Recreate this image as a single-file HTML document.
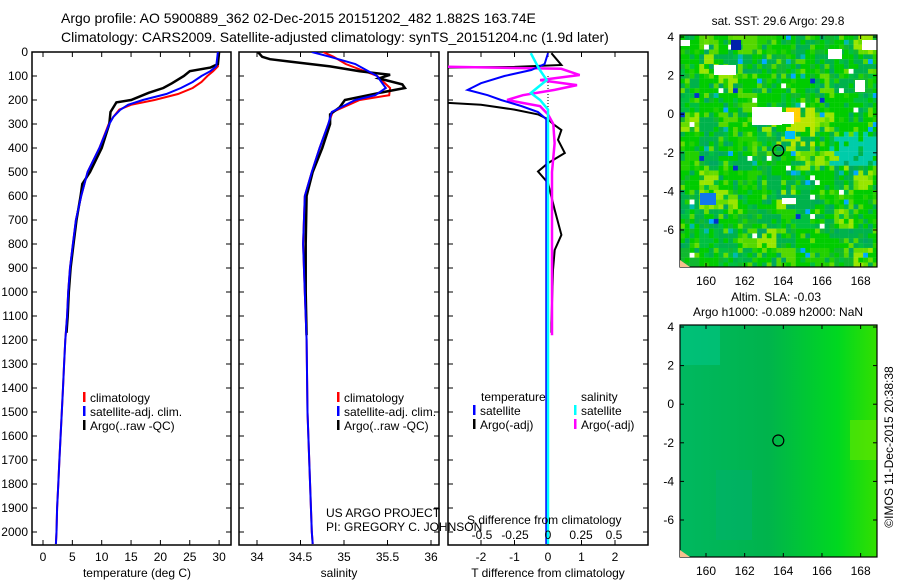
<!DOCTYPE html>
<html><head><meta charset="utf-8"><style>
body{margin:0;background:#fff;}
svg{display:block;font-family:"Liberation Sans",sans-serif;}
</style></head><body>
<svg id="c" width="900" height="580" viewBox="0 0 900 580">
<defs>
<clipPath id="p1c"><rect x="32" y="52" width="199" height="493"/></clipPath>
<clipPath id="p2c"><rect x="239" y="52" width="200" height="493"/></clipPath>
<clipPath id="p3c"><rect x="448" y="52" width="200" height="493"/></clipPath>
<clipPath id="m1c"><rect x="680" y="35" width="197" height="232"/></clipPath>
<clipPath id="m2c"><rect x="680" y="325" width="197" height="232"/></clipPath>
</defs>
<text x="61" y="23" font-size="14">Argo profile: AO 5900889_362 02-Dec-2015 20151202_482 1.882S 163.74E</text>
<text x="61" y="42" font-size="14">Climatology: CARS2009. Satellite-adjusted climatology: synTS_20151204.nc (1.9d later)</text>
<g id="g"></g>
</svg>
<script>
// ---- data ----
const tDepth=[0,60,80,100,125,150,175,200,220,240,270,300,400,500,600,700,800,900,1000,1100,1200,1300,1400,1500,1600,1700,1800,1900,2000,2050];
const tClim=[29.8,29.8,29,28,27,25.5,23,19,15,13,12,11.2,9.6,7.6,6.5,5.6,5.1,4.6,4.3,4.1,3.8,3.6,3.4,3.2,3.0,2.8,2.6,2.4,2.3,2.2];
const tSat=[29.8,29.5,28.5,27,25.5,23.5,21,17,14.5,13.2,12,11.3,9.6,7.6,6.5,5.6,5.1,4.6,4.3,4.1,3.8,3.6,3.4,3.2,3.0,2.8,2.6,2.4,2.3,2.2];
const aDepth=[0,50,65,80,100,130,150,170,200,210,250,300,400,500,550,600,700,800,900,1000,1100,1170];
const tArgo=[30,29.8,28.5,25,24,22,20.5,18,15,12.5,11.5,11.3,10,8,6.7,6.4,5.7,5.2,4.7,4.4,4.2,4.0];
const sDepth=[0,20,50,100,150,180,200,250,300,400,500,600,800,1000,1200,1500,2000,2050];
const sClim=[34.76,34.88,35.02,35.38,35.53,35.52,35.18,34.87,34.82,34.72,34.63,34.55,34.53,34.55,34.57,34.58,34.63,34.64];
const sSat=[34.63,34.84,35.13,35.38,35.48,35.36,35.13,34.86,34.82,34.72,34.63,34.55,34.53,34.55,34.57,34.58,34.63,34.64];
const saDepth=[0,20,30,40,60,80,95,110,135,150,170,200,230,260,300,400,500,600,800,1000,1180];
const sArgo=[34.01,34.06,34.15,34.38,34.84,35.18,35.53,35.4,35.67,35.7,35.41,35.01,34.95,34.84,34.84,34.75,34.64,34.57,34.56,34.56,34.57];
const dtSatDepth=[5,50,75,100,130,158,180,200,225,250,280,400,2050];
const dtSat=[0,-0.1,-0.5,-1.3,-2,-2.4,-1.8,-1.4,-0.8,-0.3,-0.05,-0.05,-0.05];
const dtArgoDepth=[5,54,62,65,208,220,240,260,280,300,325,366,421,463,498,546,658,762,825,908,1130,1170];
const dtArgo=[0.1,0.4,-1,-3.5,-3.5,-2,-1,-0.3,0,0.15,0.4,0.3,0.5,0,-0.3,0,0.2,0.4,0.2,0.15,0.1,0.1];
const dsArgoDepth=[5,55,61,70,96,117,138,158,180,200,226,260,300,380,500,1180];
const dsArgo=[-0.8,-0.8,-0.8,0.1,0.24,-0.06,0.22,0.05,-0.19,-0.31,-0.06,0,0.04,0.05,0.03,0.03];
const dsSatDepth=[5,68,117,171,200,240,300,2050];
const dsSat=[-0.13,-0.07,-0.01,-0.13,-0.06,0,0,0];
const depthTicks=[0,100,200,300,400,500,600,700,800,900,1000,1100,1200,1300,1400,1500,1600,1700,1800,1900,2000];
const tTicks=[0,5,10,15,20,25,30];
const sTicks=[34,34.5,35,35.5,36];
const dtTicks=[-2,-1,0,1,2];
const dsTicks=[-0.5,-0.25,0,0.25,0.5];
const latTicks=[4,2,0,-2,-4,-6];
const lonTicks=[160,162,164,166,168];
const argoLon=163.74, argoLat=-1.882;

// ---- scales ----
const D=d=>52+d*0.24, T=v=>43+v*5.87, S=s=>257+(s-34)*87, DT=v=>548+v*33.5, DS=v=>548+v*132;
const LX=l=>706+(l-160)*19.33, LY1=a=>37+(4-a)*19.3, LY2=a=>327+(4-a)*19.3;
const NS='http://www.w3.org/2000/svg', G=document.getElementById('g');
function el(t,a,p){const e=document.createElementNS(NS,t);for(const k in a)e.setAttribute(k,a[k]);(p||G).appendChild(e);return e;}
function txt(x,y,s,anchor,size){const e=el('text',{x:x,y:y,'font-size':size||12,'text-anchor':anchor||'start'});e.textContent=s;return e;}
function line(xs,ys,fx,color,w,clip,name){
  const pts=xs.map((v,i)=>fx(v).toFixed(1)+','+D(ys[i]).toFixed(1)).join(' ');
  const e=el('polyline',{points:pts,fill:'none',stroke:color,'stroke-width':w,'clip-path':'url(#'+clip+')'});
  
  
}
function frame(x0,x1,name){
  const r=el('rect',{x:x0,y:52,width:x1-x0,height:493,fill:'none',stroke:'#000','stroke-width':1.5});
  
  
  depthTicks.forEach(d=>{el('line',{x1:x0,x2:x0+5,y1:D(d),y2:D(d),stroke:'#000'});el('line',{x1:x1-5,x2:x1,y1:D(d),y2:D(d),stroke:'#000'});});
}
// panel 1
frame(32,231,'temperature-panel');
depthTicks.forEach(d=>{const e=txt(28,D(d)+4,String(d),'end');});
tTicks.forEach(v=>{el('line',{x1:T(v),x2:T(v),y1:52,y2:57,stroke:'#000'});el('line',{x1:T(v),x2:T(v),y1:540,y2:545,stroke:'#000'});const e=txt(T(v),561,String(v),'middle');});
line(tClim,tDepth,T,'#ff0000',2,'p1c','temp-climatology-line');
line(tArgo,aDepth,T,'#000',2.5,'p1c','temp-argo-line');
line(tSat,tDepth,T,'#0000ff',2,'p1c','temp-satellite-line');
let e=txt(137,577,'temperature (deg C)','middle');
function legend(x,y,items,name){items.forEach((it,i)=>{el('rect',{x:x,y:y+i*14-10,width:2.5,height:10,fill:it[0]});const t=txt(x+7,y+i*14,it[1]);});}
legend(83,402,[['#ff0000','climatology'],['#0000ff','satellite-adj. clim.'],['#000','Argo(..raw -QC)']],'temp-legend-entry');
// panel 2
frame(239,439,'salinity-panel');
sTicks.forEach(v=>{el('line',{x1:S(v),x2:S(v),y1:52,y2:57,stroke:'#000'});el('line',{x1:S(v),x2:S(v),y1:540,y2:545,stroke:'#000'});const e=txt(S(v),561,String(v),'middle');});
line(sClim,sDepth,S,'#ff0000',2,'p2c','sal-climatology-line');
line(sArgo,saDepth,S,'#000',2.5,'p2c','sal-argo-line');
line(sSat,sDepth,S,'#0000ff',2,'p2c','sal-satellite-line');
e=txt(339,577,'salinity','middle');
legend(337,402,[['#ff0000','climatology'],['#0000ff','satellite-adj. clim.'],['#000','Argo(..raw -QC)']],'sal-legend-entry');
// panel 3
frame(448,648,'difference-panel');
el('line',{x1:548,x2:548,y1:D(100),y2:D(300),stroke:'#000','stroke-dasharray':'1,2'});
dtTicks.forEach(v=>{el('line',{x1:DT(v),x2:DT(v),y1:52,y2:57,stroke:'#000'});el('line',{x1:DT(v),x2:DT(v),y1:540,y2:545,stroke:'#000'});const e=txt(DT(v),561,String(v),'middle');});
line(dtArgo,dtArgoDepth,DT,'#000',2,'p3c','t-diff-argo-line');
line(dsArgo,dsArgoDepth,DS,'#ff00ff',2.5,'p3c','s-diff-argo-line');
line(dtSat,dtSatDepth,DT,'#0000ff',2,'p3c','t-diff-satellite-line');
line(dsSat,dsSatDepth,DS,'#00ffff',2.5,'p3c','s-diff-satellite-line');
dsTicks.forEach(v=>{const e=txt(DS(v),539,String(v),'middle');});
e=txt(467,524,'S difference from climatology');
e=txt(548,577,'T difference from climatology','middle');
e=txt(481,401,'temperature');
e=txt(581,401,'salinity');
legend(473,415,[['#0000ff','satellite'],['#000','Argo(-adj)']],'t-diff-legend-entry');
legend(574,415,[['#00ffff','satellite'],['#ff00ff','Argo(-adj)']],'s-diff-legend-entry');
e=txt(326,517,'US ARGO PROJECT');
e=txt(326,531,'PI: GREGORY C. JOHNSON');

// ---- maps ----
function h(i,j,s){let x=(i*374761393+j*668265263+s*982451653)|0;x=(x^(x>>>13))*1274126177|0;return ((x^(x>>>16))>>>0)/4294967296;}
const pal1=['#00cc00','#00cc00','#00cc00','#00b24c','#22d000','#00c040','#00b24c','#55d800','#00cc00','#10b830','#66dd00','#00a860'];
const m1=el('g',{'clip-path':'url(#m1c)'});


for(let i=0;i<41;i++)for(let j=0;j<48;j++){
  const big=h(Math.floor(i/4),Math.floor(j/4),7);
  let r=h(i,j,1);
  if(h(i,j,5)<0.5) r=big;
  let c=pal1[Math.floor(r*pal1.length)];
  if(big>0.85&&h(i,j,4)>0.5)c='#99e600';
  const q=h(i,j,2);
  if(q>0.99)c='#ffffff';else if(q>0.982)c='#00aaff';else if(q>0.978)c='#0033cc';else if(q>0.97)c='#00b8b0';
  if(i>=31&&j>=20&&j<=26&&h(i,j,3)>0.4)c='#00ccaa';
  if(i>=22&&i<=27&&j>=15&&j<=22&&h(i,j,6)>0.3)c='#bbe600';
  if(i>=22&&i<=24&&j>=15&&j<=17)c='#ffd000';
  el('rect',{x:680+i*4.82,y:35+j*4.84,width:5,height:5,fill:c},m1);
}
[[752,107,30,18],[772,112,22,12],[714,65,22,10],[680,40,10,6],[862,40,15,10],[828,49,14,10],[855,80,10,12],[782,198,14,6]].forEach(r=>el('rect',{x:r[0],y:r[1],width:r[2],height:r[3],fill:'#fff'},m1));
el('rect',{x:785,y:131,width:10,height:8,fill:'#00bbff'},m1);
el('rect',{x:731,y:40,width:10,height:10,fill:'#0022aa'},m1);
el('rect',{x:700,y:193,width:16,height:12,fill:'#1177ee'},m1);
const gr=el('linearGradient',{id:'g2',x1:'0',y1:'0',x2:'1',y2:'0'},document.querySelector('defs'));
[['0','#00b860'],['0.45','#00b44c'],['0.8','#00d820'],['1','#33e000']].forEach(s=>el('stop',{offset:s[0],'stop-color':s[1]},gr));
const m2=el('g',{'clip-path':'url(#m2c)'});


el('rect',{x:680,y:325,width:197,height:232,fill:'url(#g2)'},m2);
el('rect',{x:680,y:325,width:40,height:40,fill:'#00c890',opacity:0.5},m2);
el('rect',{x:716,y:470,width:36,height:70,fill:'#00b070',opacity:0.5},m2);
el('rect',{x:850,y:420,width:27,height:40,fill:'#66e600',opacity:0.6},m2);
function mapAxes(LY,y0,name){
  const r=el('rect',{x:680,y:y0,width:197,height:232,fill:'none',stroke:'#000','stroke-width':1.2});
  
  
  latTicks.forEach(a=>{el('line',{x1:680,x2:684,y1:LY(a),y2:LY(a),stroke:'#000'});el('line',{x1:873,x2:877,y1:LY(a),y2:LY(a),stroke:'#000'});const t=txt(674,LY(a)+4,String(a),'end');});
  lonTicks.forEach(l=>{el('line',{x1:LX(l),x2:LX(l),y1:y0,y2:y0+4,stroke:'#000'});el('line',{x1:LX(l),x2:LX(l),y1:y0+228,y2:y0+232,stroke:'#000'});const t=txt(LX(l),y0+250,String(l),'middle');});
  const c=el('circle',{cx:LX(argoLon),cy:LY(argoLat),r:5.5,fill:'none',stroke:'#000','stroke-width':1.2});
  
  
  el('polygon',{points:`680,${y0+225} 680,${y0+232} 690,${y0+232}`,fill:'#f5c090'});
}
mapAxes(LY1,35,'sst-map-frame');
mapAxes(LY2,325,'sla-map-frame');
e=txt(778,25,'sat. SST: 29.6 Argo: 29.8','middle');
e=txt(776,301,'Altim. SLA: -0.03','middle');
e=txt(778,316,'Argo h1000: -0.089 h2000: NaN','middle');
e=txt(0,0,'©IMOS 11-Dec-2015 20:38:38','middle');e.setAttribute('transform','translate(893,447) rotate(-90)');


</script>
</body></html>
